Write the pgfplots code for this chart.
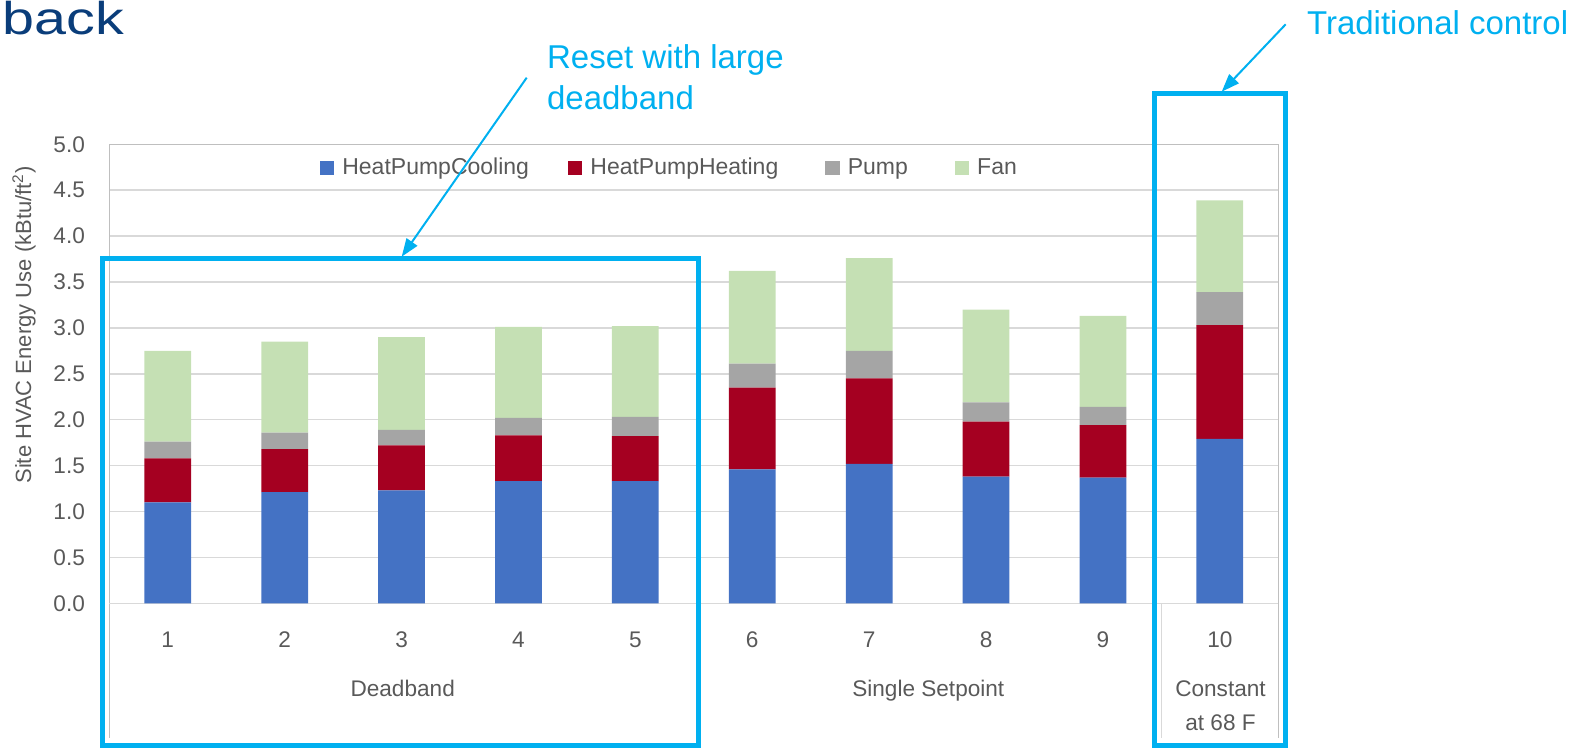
\documentclass[border=0pt]{standalone}
\usepackage{pgfplots}
\pgfplotsset{compat=1.18}
\usepackage{pgfplotstable}
\usepackage{fontspec}
\setmainfont{Liberation Sans}
\usetikzlibrary{arrows.meta}

\definecolor{hpcool}{HTML}{4472C4}
\definecolor{hpheat}{HTML}{A50021}
\definecolor{pumpc}{HTML}{A5A5A5}
\definecolor{fanc}{HTML}{C5E0B4}
\definecolor{txtgray}{HTML}{595959}
\definecolor{gridgray}{HTML}{D9D9D9}
\definecolor{framegray}{HTML}{BFBFBF}
\definecolor{callout}{HTML}{00B0F0}
\definecolor{titleblue}{RGB}{10,61,122}

% site HVAC energy use by end use (kBtu/ft2)
\pgfplotstableread{
case cool heat pump fan
1  1.10 0.48 0.18 0.99
2  1.21 0.47 0.18 0.99
3  1.23 0.49 0.17 1.01
4  1.33 0.50 0.19 0.99
5  1.33 0.49 0.21 0.99
6  1.46 0.89 0.26 1.01
7  1.52 0.93 0.30 1.01
8  1.38 0.60 0.21 1.01
9  1.37 0.57 0.20 0.99
10 1.79 1.24 0.36 1.00
}\energy

\begin{document}
\begin{tikzpicture}[x=0.5pt,y=-0.5pt]
\useasboundingbox (0,0) rectangle (1587,749);

\begin{axis}[
  at={(54.65pt,-301.65pt)}, anchor=south west,
  scale only axis, width=584.5pt, height=229.5pt,
  xmin=0.5, xmax=10.5, ymin=0, ymax=5,
  clip=false,
  ybar stacked, bar width=0.4,
  axis line style={draw=none},
  major tick length=0pt,
  xtick={1,...,10},
  xticklabels={1,2,3,4,5,6,7,8,9,10},
  ytick={0,0.5,...,5},
  yticklabels={0.0,0.5,1.0,1.5,2.0,2.5,3.0,3.5,4.0,4.5,5.0},
  tick label style={font=\fontsize{11.3}{13}\selectfont, text=txtgray},
  yticklabel style={anchor=east, inner sep=0pt, xshift=-12pt},
  xticklabel style={anchor=base, inner sep=0pt, yshift=-21.85pt},
  ymajorgrids, major grid style={draw=gridgray, line width=0.75pt},
  legend columns=4,
  legend style={draw=none, fill=none, inner sep=0pt, outer sep=0pt,
    at={(axis cs:2.302,4.742)}, anchor=west,
    font=\fontsize{11.5}{13}\selectfont, text=txtgray,
    /tikz/every odd column/.style={column sep=2pt},
    /tikz/column 2/.style={column sep=17.5pt},
    /tikz/column 4/.style={column sep=21.5pt},
    /tikz/column 6/.style={column sep=21.5pt}},
  legend image code/.code={\fill[#1] (0pt,-3.6pt) rectangle (7.2pt,3.6pt);},
]
\addplot[fill=hpcool, draw=none] table[x=case, y=cool] {\energy};
\addlegendentry{HeatPumpCooling}
\addplot[fill=hpheat, draw=none] table[x=case, y=heat] {\energy};
\addlegendentry{HeatPumpHeating}
\addplot[fill=pumpc, draw=none] table[x=case, y=pump] {\energy};
\addlegendentry{Pump}
\addplot[fill=fanc, draw=none] table[x=case, y=fan] {\energy};
\addlegendentry{Fan}

% plot frame and category separators
\draw[gridgray, line width=0.75pt] (axis cs:0.5,0) -- (axis cs:10.5,0);
\draw[framegray, line width=0.6pt] (axis cs:0.5,-1.467) -- (axis cs:0.5,5) -- (axis cs:10.5,5) -- (axis cs:10.5,-1.467);
\draw[gridgray, line width=0.6pt] (axis cs:9.5,0) -- (axis cs:9.5,-1.467);
\end{axis}

% y axis title
\node[rotate=90, text=txtgray, font=\fontsize{11}{13}\selectfont, inner sep=0pt]
  at (24,325) {Site HVAC Energy Use (kBtu/ft\textsuperscript{2})};

% group labels
\begin{scope}[every node/.style={text=txtgray, font=\fontsize{11.3}{13}\selectfont, inner sep=0pt, anchor=base}]
\node at (402.7,696.5) {Deadband};
\node at (928.3,696.5) {Single Setpoint};
\node at (1220.5,696.5) {Constant};
\node at (1220.5,730) {at 68 F};
\end{scope}

% title fragment
\node[anchor=base west, inner sep=0pt, text=titleblue, font=\fontsize{23}{27}\selectfont, xscale=1.25, transform shape]
  at (2,35) {back};

% callouts
\draw[callout, line width=2.5pt] (102.5,259) rectangle (698,745);
\draw[callout, line width=2.5pt] (1154.7,93.5) rectangle (1285.5,745);
\draw[callout, line width=1pt, -{Triangle[length=9pt,width=6.5pt]}] (526.7,77.7) -- (401.7,256.7);
\draw[callout, line width=1pt, -{Triangle[length=9pt,width=6.5pt]}] (1285.7,24.3) -- (1221.7,91.7);
\begin{scope}[every node/.style={text=callout, font=\fontsize{16.5}{21}\selectfont, inner sep=0pt, anchor=base west}]
\node at (546.7,68.3) {Reset with large};
\node at (546.7,110) {deadband};
\node at (1306.7,35) {Traditional control};
\end{scope}
\end{tikzpicture}
\end{document}
